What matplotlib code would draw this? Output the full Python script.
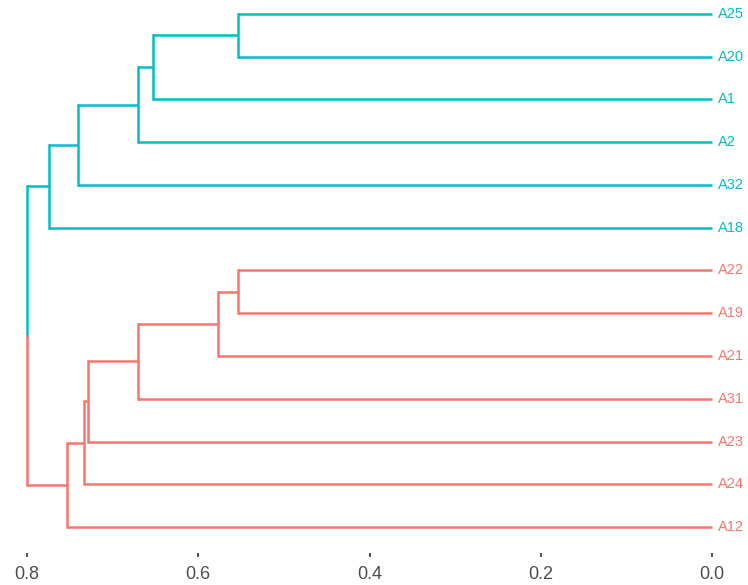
import matplotlib.pyplot as plt

plt.rcParams['font.family'] = ['Liberation Sans', 'DejaVu Sans']

# leaves, top to bottom
labels = ['A25', 'A20', 'A1', 'A2', 'A32', 'A18',
          'A22', 'A19', 'A21', 'A31', 'A23', 'A24', 'A12']
# merges like a scipy linkage: ids < 13 are leaves, 13+i is merge i
merge_left = [0, 13, 14, 15, 16, 6, 18, 19, 20, 21, 22, 17]
merge_right = [1, 2, 3, 4, 5, 7, 8, 9, 10, 11, 12, 23]
merge_height = [0.553, 0.653, 0.670, 0.740, 0.774,
                0.553, 0.577, 0.670, 0.729, 0.733, 0.753, 0.800]
cluster_of_leaf = [0] * 6 + [1] * 7
cluster_colors = ['#00BFC4', '#F8766D']
xticks = [0.8, 0.6, 0.4, 0.2, 0.0]

n = len(labels)
pos = {i: n - i for i in range(n)}   # y position, top leaf highest
hgt = {i: 0.0 for i in range(n)}
col = {i: cluster_colors[cluster_of_leaf[i]] for i in range(n)}

fig = plt.figure(figsize=(7.48, 5.85), dpi=100)
ax = fig.add_axes([27 / 748, 1 - 553 / 585, 685 / 748, (553 - 14) / 585])
lw = 1.8

for k, (a, b, h) in enumerate(zip(merge_left, merge_right, merge_height)):
    node = n + k
    ya, yb = pos[a], pos[b]
    # horizontal links to children
    ax.plot([hgt[a], h], [ya, ya], color=col[a], lw=lw, solid_capstyle='butt', clip_on=False)
    ax.plot([hgt[b], h], [yb, yb], color=col[b], lw=lw, solid_capstyle='butt', clip_on=False)
    ym = (ya + yb) / 2
    if col[a] == col[b]:
        ax.plot([h, h], [ya, yb], color=col[a], lw=lw, solid_capstyle='projecting', clip_on=False)
        col[node] = col[a]
    else:
        ax.plot([h, h], [ya, ym], color=col[a], lw=lw, solid_capstyle='projecting', clip_on=False)
        ax.plot([h, h], [ym, yb], color=col[b], lw=lw, solid_capstyle='projecting', clip_on=False)
        col[node] = col[b]
    pos[node] = ym
    hgt[node] = h

for i, lab in enumerate(labels):
    ax.annotate(lab, (0, pos[i]), xytext=(4, 0), textcoords='offset points',
                ha='left', va='center', fontsize=10.5, color=col[i])

ax.set_xlim(0.8, 0.0)
ax.set_ylim(1 - 26 / 42.75, 13)
ax.set_xticks(xticks)
ax.set_xticklabels([f'{t:.1f}' for t in xticks])
ax.set_yticks([])
ax.tick_params(axis='x', length=3, width=1.2, color='#333333',
               labelsize=13, labelcolor='#4D4D4D', pad=6.5)
for s in ax.spines.values():
    s.set_visible(False)

plt.savefig('out.png', dpi=100)
